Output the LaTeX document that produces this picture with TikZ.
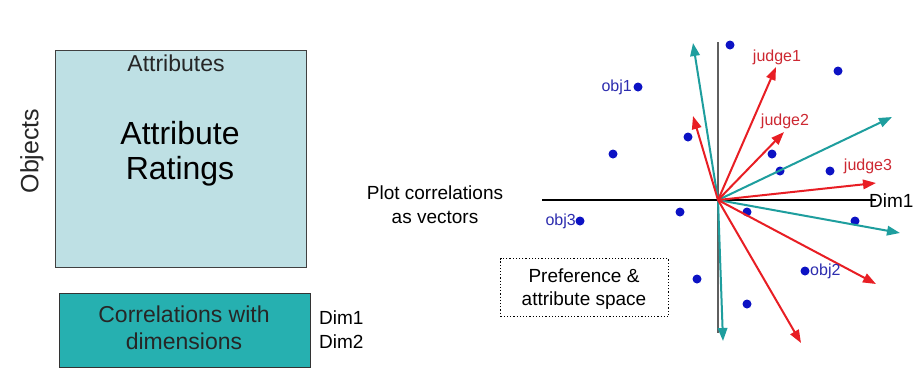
\documentclass[tikz,border=0pt]{standalone}
\usepackage{fontspec}
\setmainfont{Liberation Sans}
\usetikzlibrary{arrows.meta}
\definecolor{boxblue}{RGB}{190,224,228}
\definecolor{boxteal}{RGB}{38,176,176}
\definecolor{vecteal}{RGB}{30,158,158}
\definecolor{vecred}{RGB}{232,30,36}
\definecolor{lblred}{RGB}{205,40,50}
\definecolor{dotblue}{RGB}{12,18,196}
\definecolor{lblblue}{RGB}{45,45,175}
\definecolor{axgray}{RGB}{95,95,95}
\tikzset{
  fs/.style={font=\fontsize{#1pt}{1.2\dimexpr #1pt\relax}\selectfont},
  vec/.style={line width=2pt,-{Triangle[length=13pt,width=9.5pt]}},
  tvec/.style={vec,draw=vecteal,fill=vecteal},
  rvec/.style={vec,draw=vecred,fill=vecred},
  pt/.style={circle,fill=dotblue,inner sep=0pt,minimum size=9pt},
  jlab/.style={text=lblred,fs=16,inner sep=0pt},
  olab/.style={text=lblblue,fs=16,inner sep=0pt},
}
\begin{document}
\begin{tikzpicture}[x=1pt,y=-1pt]
\useasboundingbox[fill=white] (0,0) rectangle (917,368);
% left side
\node[draw=black!75,line width=0.8pt,fill=boxblue,minimum width=251pt,minimum height=217pt,anchor=north west,inner sep=0pt] (ratings) at (55,50) {};
\node[fs=23,inner sep=0pt,text=black!85] (attrs) at (176,63) {Attributes};
\node[fs=32,align=center,inner sep=0pt] (ar) at (180,154) {Attribute\\[-3pt]Ratings};
\node[fs=25,rotate=90,inner sep=0pt,text=black!85] (objs) at (32,151) {Objects};
\node[draw=black!80,line width=0.8pt,fill=boxteal,minimum width=251pt,minimum height=74pt,anchor=north west,inner sep=0pt] (corr) at (59,293) {};
\node[fs=23,align=center,inner sep=0pt,text=black!85] (corrt) at (184,328) {Correlations with\\[-1pt]dimensions};
\node[fs=19,align=left,inner sep=0pt,anchor=west] (dims) at (319,330) {Dim1\\[1pt]Dim2};
\node[fs=19,align=center,inner sep=0pt] (plot) at (435,205) {Plot correlations\\[1pt]as vectors};
\node[draw,dotted,line width=1.2pt,minimum width=168pt,minimum height=58pt,anchor=north west,inner sep=0pt] (pref) at (500,258) {};
\node[fs=19,align=center,inner sep=0pt] (preft) at (584,289) {Preference \&\\[1pt]attribute space};
% axes
\coordinate (O) at (718,200);
\coordinate (xl) at (542,200);
\coordinate (xr) at (876,200);
\coordinate (yt) at (718,42);
\coordinate (yb) at (718,333);
\draw[line width=1.1pt] (xl) -- (xr);
\draw[line width=1.1pt,axgray] (yt) -- (yb);
\node[fs=19,inner sep=0pt,anchor=west] (dim1) at (869,201) {Dim1};
% dots
\foreach \n/\x/\y in {d1/730/45,d2/838/71,d3/638/87,d4/688/137,d5/613/154,d6/772/154,d7/780/171,d8/830/171,d9/680/212,d10/747/212,d11/855/221,d12/580/221,d13/805/271,d14/697/279,d15/747/304}
  \node[pt] (\n) at (\x,\y) {};
% vectors
\coordinate (t1) at (693,43);
\coordinate (t2) at (892,117);
\coordinate (t3) at (900,233);
\coordinate (t4) at (723,341);
\coordinate (r1) at (776,67);
\coordinate (r2) at (784,132);
\coordinate (r3) at (876,183);
\coordinate (r4) at (693,116);
\coordinate (r5) at (876,284);
\coordinate (r6) at (801,343);
\foreach \t in {t1,t2,t3,t4} \draw[tvec] (O) -- (\t);
\foreach \r in {r1,r2,r3,r4,r5,r6} \draw[rvec] (O) -- (\r);
% labels
\node[jlab] (j1) at (777,57) {judge1};
\node[jlab] (j2) at (785,121) {judge2};
\node[jlab] (j3) at (868,166) {judge3};
\node[olab,anchor=east] (o1) at (632,87) {obj1};
\node[olab,anchor=east] (o3) at (576,221) {obj3};
\node[olab,anchor=west] (o2) at (810,271) {obj2};
\end{tikzpicture}
\end{document}
